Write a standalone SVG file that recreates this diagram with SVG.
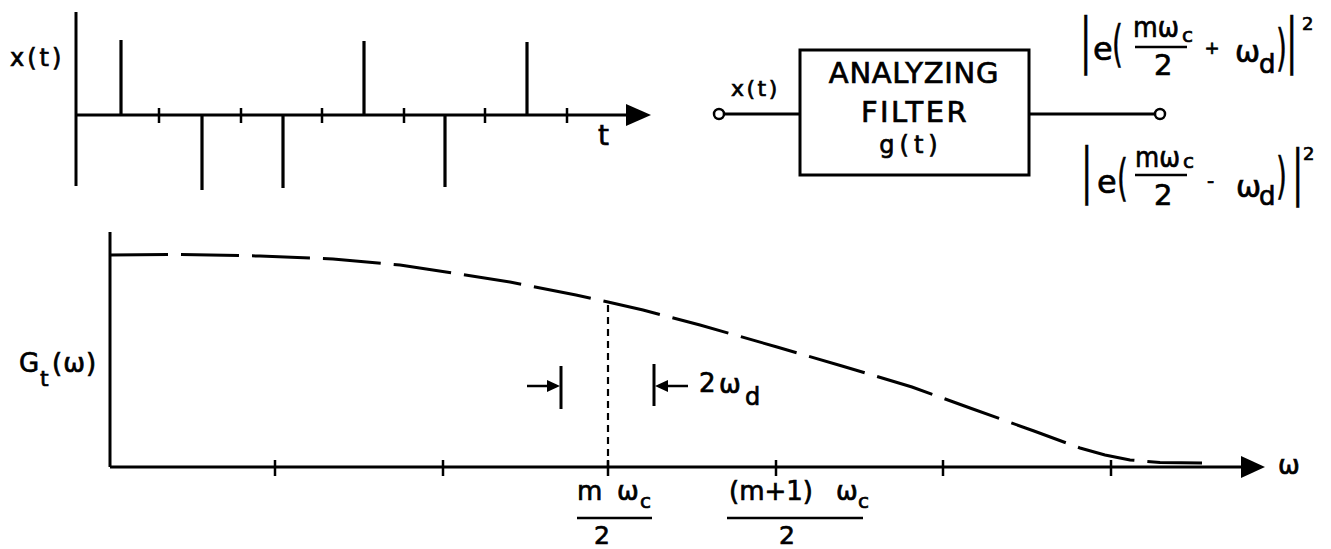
<svg xmlns="http://www.w3.org/2000/svg" width="1331" height="549" viewBox="0 0 1331 549">
<style>
text{font-family:"DejaVu Sans","Liberation Sans",sans-serif;fill:#000;stroke:#000;stroke-width:0.7}
.ax{stroke:#000;stroke-width:3;fill:none}
.tk{stroke:#000;stroke-width:2.5;fill:none}
.imp{stroke:#000;stroke-width:3.2;fill:none}
.fb{stroke:#000;stroke-width:2.5}
.curve{stroke:#000;stroke-width:3;fill:none;stroke-dasharray:58 13}
.vd{stroke:#000;stroke-width:2.2;stroke-dasharray:7 5}
.dl{font-size:34px;stroke-width:0.3}
.pr{font-size:28px;stroke-width:0.3}
</style>
<rect width="1331" height="549" fill="#fff"/>
<!-- top-left time plot -->
<g id="time-plot">
<line class="ax" x1="76" y1="12" x2="76" y2="186"/>
<line class="ax" x1="76" y1="115" x2="630" y2="115"/>
<polygon points="626,104 651,115 626,126" fill="#000"/>
<g class="tk">
<line x1="159" y1="108" x2="159" y2="123"/><line x1="241" y1="108" x2="241" y2="123"/>
<line x1="322" y1="108" x2="322" y2="123"/><line x1="404" y1="108" x2="404" y2="123"/>
<line x1="485" y1="108" x2="485" y2="123"/><line x1="567" y1="108" x2="567" y2="123"/>
</g>
<g class="imp">
<line x1="121" y1="40" x2="121" y2="115"/><line x1="364" y1="41" x2="364" y2="115"/><line x1="527" y1="42" x2="527" y2="115"/>
<line x1="202" y1="115" x2="202" y2="190"/><line x1="283" y1="115" x2="283" y2="188"/><line x1="445" y1="115" x2="445" y2="187"/>
</g>
<text x="10" y="66" font-size="24" letter-spacing="3">x(t)</text>
<text x="598" y="145" font-size="28">t</text>
</g>
<!-- connectors -->
<g id="connectors">
<line class="ax" x1="724" y1="114" x2="800" y2="114"/>
<line class="ax" x1="1029" y1="114" x2="1155" y2="114"/>
</g>
<g id="input">
<circle cx="719" cy="114" r="5" fill="#fff" stroke="#000" stroke-width="2.5"/>
<text x="731" y="96" font-size="22" letter-spacing="2.5">x(t)</text>
</g>
<g id="filter">
<rect x="800" y="50" width="229" height="125" fill="#fff" stroke="#000" stroke-width="3"/>
<text x="914" y="83" font-size="29" text-anchor="middle" letter-spacing="0.7">ANALYZING</text>
<text x="915" y="122" font-size="29" text-anchor="middle" letter-spacing="2.4">FILTER</text>
<text x="911" y="153" font-size="24" text-anchor="middle" letter-spacing="5">g(t)</text>
</g>
<g id="output">
<circle cx="1160" cy="114" r="5" fill="#fff" stroke="#000" stroke-width="2.5"/>
<!-- upper formula -->
<text class="dl" transform="translate(1080,60.6) scale(1,1.8)">|</text>
<text x="1093" y="60" font-size="32">e</text>
<text class="pr" transform="translate(1112,61.3) scale(1,1.8)">(</text>
<text x="1133" y="37" font-size="29" textLength="46" lengthAdjust="spacingAndGlyphs">mω</text>
<text x="1182" y="42" font-size="20">c</text>
<line class="fb" x1="1135" y1="47" x2="1187" y2="47"/>
<text x="1154" y="75" font-size="29">2</text>
<text x="1204.5" y="54.4" font-size="18">+</text>
<text x="1235" y="62" font-size="30">ω</text>
<text x="1259" y="73" font-size="26">d</text>
<text class="pr" transform="translate(1276,65.3) scale(1,1.8)">)</text>
<text class="dl" transform="translate(1286,60.6) scale(1,1.8)">|</text>
<text x="1302" y="30" font-size="18">2</text>
<!-- lower formula -->
<text class="dl" transform="translate(1081,190.6) scale(1,1.8)">|</text>
<text x="1097" y="193" font-size="32">e</text>
<text class="pr" transform="translate(1117,195.3) scale(1,1.8)">(</text>
<text x="1135" y="167" font-size="29" textLength="45" lengthAdjust="spacingAndGlyphs">mω</text>
<text x="1183" y="168" font-size="20">c</text>
<line class="fb" x1="1135" y1="175" x2="1187" y2="175"/>
<text x="1154" y="205" font-size="29">2</text>
<text x="1207" y="188" font-size="20">-</text>
<text x="1236" y="197" font-size="30">ω</text>
<text x="1259" y="205" font-size="26">d</text>
<text class="pr" transform="translate(1276,193.3) scale(1,1.8)">)</text>
<text class="dl" transform="translate(1292,192.6) scale(1,1.8)">|</text>
<text x="1303" y="160" font-size="18">2</text>
</g>
<!-- bottom spectrum plot -->
<g id="spectrum-plot">
<line class="ax" x1="110" y1="232" x2="110" y2="467"/>
<line class="ax" x1="110" y1="467" x2="1245" y2="467"/>
<polygon points="1241,456 1265,467 1241,478" fill="#000"/>
<g class="tk">
<line x1="275" y1="460" x2="275" y2="476"/><line x1="443" y1="460" x2="443" y2="476"/>
<line x1="608" y1="460" x2="608" y2="476"/><line x1="776" y1="460" x2="776" y2="476"/>
<line x1="943" y1="460" x2="943" y2="476"/><line x1="1111" y1="460" x2="1111" y2="476"/>
</g>
<polyline class="curve" points="110,255 180,254.5 260,256 333,259 400,265 446,272 510,282 576,295 608,302 643,310 700,325 777,347 842,366 912,387 970,408 1034,431 1080,448 1105,455 1130,460 1160,462.5 1202,463"/>
<line class="vd" x1="608" y1="305" x2="608" y2="467"/>
<!-- width markers -->
<line class="tk" x1="527" y1="386" x2="552" y2="386"/>
<polygon points="547,380 560,386 547,392" fill="#000"/>
<line class="ax" x1="561" y1="366" x2="561" y2="409" stroke-width="2.5"/>
<line class="ax" x1="654" y1="364" x2="654" y2="406" stroke-width="2.5"/>
<polygon points="668,380 655,386 668,392" fill="#000"/>
<line class="tk" x1="664" y1="386" x2="688" y2="386"/>
<text x="699" y="392" font-size="26">2</text>
<text x="719" y="393" font-size="26">ω</text>
<text x="745" y="405" font-size="24">d</text>
<!-- axis labels -->
<text x="19" y="372" font-size="26">G</text>
<text x="40" y="386" font-size="22">t</text>
<text x="52" y="371.6" font-size="26" letter-spacing="1">(ω)</text>
<text x="1278" y="474" font-size="26">ω</text>
<text x="577" y="500" font-size="26">m</text>
<text x="617" y="500" font-size="26">ω</text>
<text x="640" y="508" font-size="20">c</text>
<line class="fb" x1="577" y1="518" x2="652" y2="518"/>
<text x="594" y="544" font-size="25">2</text>
<text x="729" y="500" font-size="26" textLength="84" lengthAdjust="spacing">(m+1)</text>
<text x="836" y="500" font-size="26">ω</text>
<text x="858" y="508" font-size="20">c</text>
<line class="fb" x1="727" y1="518" x2="863" y2="518"/>
<text x="779" y="544" font-size="25">2</text>
</g>
</svg>
